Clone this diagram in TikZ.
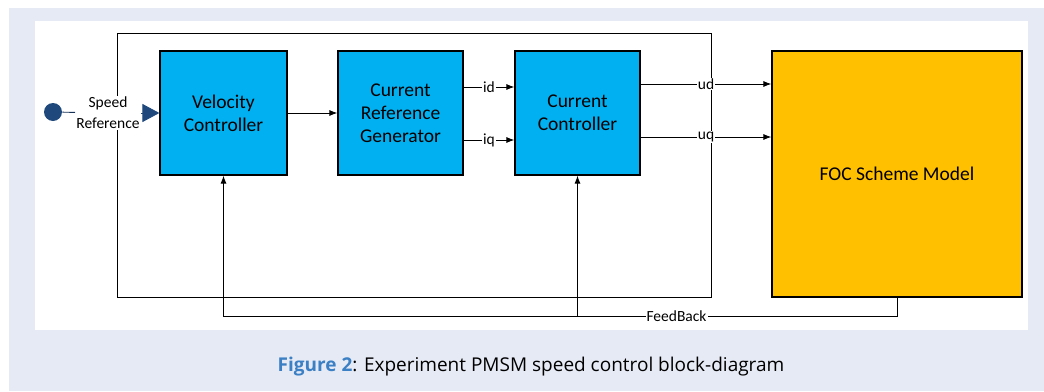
\documentclass[tikz,border=0pt]{standalone}
\usepackage{fontspec}
\setmainfont{Carlito}
\newfontfamily\capfont{Open Sans}
\usetikzlibrary{arrows.meta}

\definecolor{pagebg}{HTML}{E6EAF5}
\definecolor{ctrlblue}{HTML}{00B0F0}
\definecolor{focyellow}{HTML}{FFC000}
\definecolor{refblue}{HTML}{1F497D}
\definecolor{figblue}{HTML}{3B7FC4}

\begin{document}
\begin{tikzpicture}[x=1pt,y=-1pt,
    block/.style={draw=black, line width=1.2pt, fill=ctrlblue, align=center,
      inner sep=0pt, font=\fontsize{19.5}{23}\selectfont},
    sig/.style={fill=white, inner sep=1pt, font=\fontsize{15.5}{17}\selectfont},
    >={Latex[length=8pt,width=6pt]}, line width=0.9pt]

    % page and panel
    \useasboundingbox (0,0) rectangle (1044,391);
    \fill[pagebg] (9,8) rectangle (1044,391);
    \fill[white] (35,21) rectangle (1028,330);

    % frame round the controllers
    \draw (117,33) rectangle (711,297);

    % blocks
    \node[block, minimum width=127pt, minimum height=124pt] (vc) at (223.5,113) {Velocity\\Controller};
    \node[block, minimum width=125pt, minimum height=124pt] (crg) at (400.5,113) {Current\\Reference\\Generator};
    \node[block, minimum width=125pt, minimum height=124pt] (cc) at (577.5,113) {Current\\Controller};
    \node[block, fill=focyellow, minimum width=250pt, minimum height=246pt] (foc) at (897,174) {FOC Scheme Model};

    % speed reference input
    \node[circle, fill=refblue, minimum size=18pt, inner sep=0pt] (in) at (53,112) {};
    \node[sig, align=center, font=\fontsize{15.5}{21}\selectfont] (sref) at (108,113) {Speed\\Reference};
    \draw[refblue!70!black] (in) -- (sref);
    \draw[refblue, -{Triangle[length=17pt,width=18pt]}] (sref.east) -- (vc.west);

    % signals between the blocks
    \draw[->] (vc) -- (crg);
    \draw[->] ([yshift=26pt]crg.east) -- node[sig]{id} ([yshift=26pt]cc.west);
    \draw[->] ([yshift=-27pt]crg.east) -- node[sig]{iq} ([yshift=-27pt]cc.west);

    \coordinate (udA) at ([yshift=29pt]cc.east);
    \coordinate (uqA) at ([yshift=-24pt]cc.east);
    \draw[->] (udA) -- node[sig]{ud} (udA -| foc.west);
    \draw[->] (uqA) -- node[sig]{uq} (uqA -| foc.west);

    % feedback
    \coordinate (fbr) at ([yshift=-19pt]foc.south);
    \coordinate (fbm) at (fbr -| cc.south);
    \draw[->] (foc.south) -- (fbr) -- node[sig, pos=0.69]{FeedBack} (fbm) -| (vc.south);
    \draw[->] (fbm) -- (cc.south);

    % caption
    \node (cap) at (531,367) {\capfont\fontsize{19}{22}\selectfont\textcolor{figblue}{\bfseries Figure 2}: Experiment PMSM speed control block-diagram};
\end{tikzpicture}
\end{document}
